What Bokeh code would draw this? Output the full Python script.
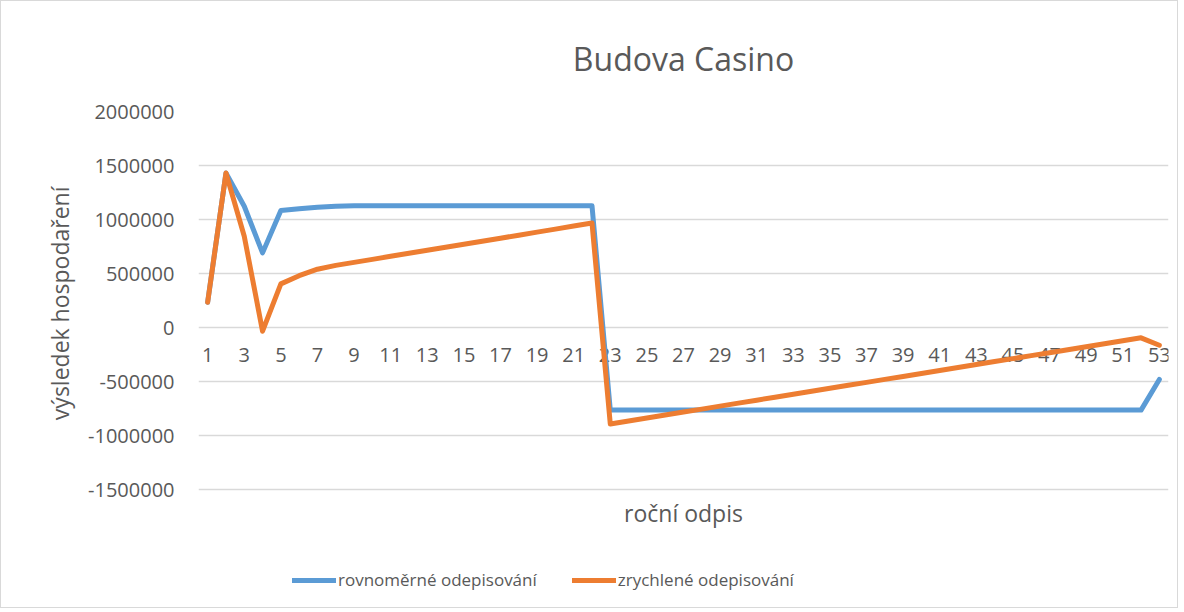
from bokeh.plotting import figure
from bokeh.models import (Range1d, FixedTicker, LinearAxis, Legend, LegendItem,
                          ColumnDataSource, Title, NumeralTickFormatter, Label)
from bokeh.core.properties import value
from bokeh.embed import file_html
from bokeh.resources import INLINE

years = list(range(1, 54))
rovnomerne = [234000, 1430000, 1123000, 691000, 1083000, 1099000, 1114000, 1123000,
              1128000, 1128000, 1128000, 1128000, 1128000, 1128000, 1128000, 1128000,
              1128000, 1128000, 1128000, 1128000, 1128000, 1128000,
              -765000, -765000, -765000, -765000, -765000, -765000, -765000, -765000,
              -765000, -765000, -765000, -765000, -765000, -765000, -765000, -765000,
              -765000, -765000, -765000, -765000, -765000, -765000, -765000, -765000,
              -765000, -765000, -765000, -765000, -765000, -765000, -481000]
zrychlene = [234000, 1430000, 845000, -34000, 404000, 480000, 540000, 575000,
             603000, 631000, 659000, 687000, 715000, 743000, 771000, 799000,
             827000, 855000, 883000, 911000, 939000, 967000,
             -893000, -865500, -838000, -810500, -783000, -755500, -728000, -700500,
             -673000, -645500, -618000, -590500, -563000, -535500, -508000, -480500,
             -453000, -425500, -398000, -370500, -343000, -315500, -288000, -260500,
             -233000, -205500, -178000, -150500, -123000, -95500, -164000]
x_ticks = [1, 3, 5, 7, 9, 11, 13, 15, 17, 19, 21, 23, 25, 27, 29, 31, 33, 35, 37,
           39, 41, 43, 45, 47, 49, 51, 53]
x_tick_labels = ["1", "3", "5", "7", "9", "11", "13", "15", "17", "19", "21", "23",
                 "25", "27", "29", "31", "33", "35", "37", "39", "41", "43", "45",
                 "47", "49", "51", "53"]
y_ticks = [-1500000, -1000000, -500000, 0, 500000, 1000000, 1500000, 2000000]

FONT = "Open Sans"
GREY = "#595959"

# layout: value axis spans 378 px for 2000000 .. -1500000; the frame continues
# below it to hold the axis title and the legend (as in the Excel chart area)
Y_TOP, Y_BOT = 2000000, -1500000
AXIS_PX = 378
FRAME_PX = 492
per_px = (Y_TOP - Y_BOT) / AXIS_PX
y_lo = Y_TOP - FRAME_PX * per_px

src = ColumnDataSource(dict(x=years, a=rovnomerne, b=zrychlene))
tick_src = ColumnDataSource(dict(x=x_ticks, y=[0] * len(x_ticks), t=x_tick_labels))

p = figure(frame_width=970, frame_height=FRAME_PX, output_backend="svg",
           toolbar_location=None,
           x_range=Range1d(0.5, 53.5), y_range=Range1d(y_lo, Y_TOP),
           min_border_left=197, min_border_right=9, min_border_top=110,
           min_border_bottom=4, x_axis_location=None, y_axis_location=None)
p.outline_line_color = None
p.styles = {"border": "1px solid #d9d9d9"}

# title
t = Title(text="Budova Casino", align="center", text_font=FONT,
          text_font_size="32px", text_color=GREY, text_font_style="normal",
          standoff=64)
p.add_layout(t, "above")

# y axis (tick labels only)
yax = LinearAxis(ticker=FixedTicker(ticks=y_ticks),
                 formatter=NumeralTickFormatter(format="0"))
yax.axis_line_color = None
yax.major_tick_line_color = None
yax.minor_tick_line_color = None
yax.major_label_text_font = FONT
yax.major_label_text_font_size = "20px"
yax.major_label_text_color = GREY
yax.major_label_standoff = 18
p.add_layout(yax, "left")

# y axis title, placed along the value axis part of the frame
yt = Title(text="výsledek hospodaření", align="right", text_font=FONT,
           text_font_size="23px", text_color=GREY, text_font_style="normal",
           standoff=20, offset=75)
p.add_layout(yt, "left")

p.xgrid.visible = False
p.ygrid.ticker = FixedTicker(ticks=y_ticks)
p.ygrid.grid_line_color = "#d9d9d9"
p.ygrid.grid_line_width = 1.3

# category labels at the zero line
p.text(x="x", y="y", text="t", source=tick_src, text_font=value(FONT),
       text_font_size="20px", text_color=GREY, text_align="center",
       text_baseline="middle", y_offset=27)

# axis title under the value axis
xt = Label(x=27, y=Y_BOT - 23 * per_px, text="roční odpis", text_font=FONT,
           text_font_size="23px", text_color=GREY, text_align="center",
           text_baseline="middle")
p.add_layout(xt)

r1 = p.line("x", "a", source=src, line_color="#5b9bd5", line_width=5,
            line_join="round", line_cap="round")
r2 = p.line("x", "b", source=src, line_color="#ed7d31", line_width=5,
            line_join="round", line_cap="round")

legend = Legend(items=[LegendItem(label="rovnoměrné odepisování", renderers=[r1]),
                       LegendItem(label="zrychlené odepisování", renderers=[r2])],
                orientation="horizontal", location=(94, 12))
legend.label_text_font = FONT
legend.label_text_font_size = "17px"
legend.label_text_color = GREY
legend.glyph_width = 44
legend.label_standoff = 2
legend.spacing = 35
legend.border_line_color = None
legend.background_fill_alpha = 0
legend.margin = 0
legend.padding = 0
p.add_layout(legend, "center")

open("out.html", "w").write(file_html(p, INLINE))
